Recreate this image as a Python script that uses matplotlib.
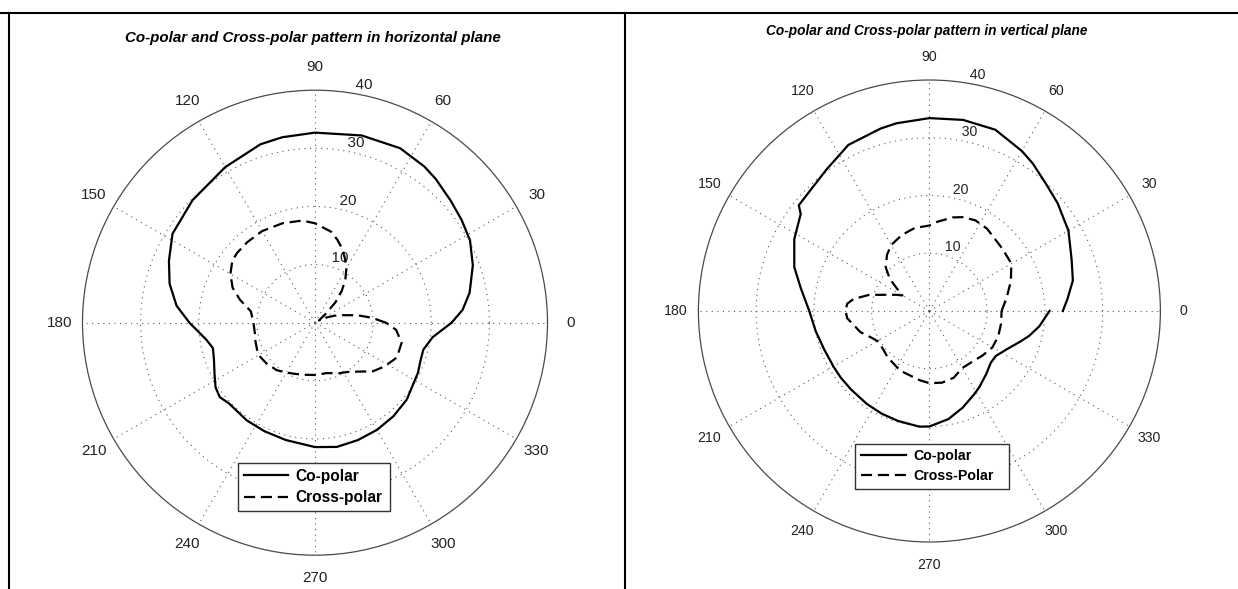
import numpy as np
import matplotlib
matplotlib.use("Agg")
import matplotlib.pyplot as plt
from matplotlib.lines import Line2D

# ====== Data (angle in degrees, level) ======
h_co_ang = [0, 5, 11, 20, 28, 35, 42, 50, 55, 64, 76, 90, 100, 107, 120, 135, 148, 157,
            165, 173, 180, 189, 194, 200, 207, 213, 218, 223, 235, 245, 256, 270, 280,
            290, 300, 310, 320, 334, 340, 346, 353, 360]
h_co_r = [23.5, 25.5, 27.1, 28.9, 30.2, 30.8, 31.4, 32.3, 32.8, 33.4, 33.2, 32.7, 32.4,
          32.1, 30.9, 29.8, 28.9, 27.3, 25.9, 24.0, 21.6, 18.9, 18.1, 18.5, 19.4, 20.4,
          20.8, 20.3, 20.5, 20.6, 20.8, 21.4, 21.7, 21.5, 21.3, 21.0, 20.6, 19.7, 19.3,
          19.2, 20.4, 23.5]

h_x_ang = [0, 5, 10, 15, 20, 25, 30, 35, 40, 45, 50, 55, 60, 65, 70, 75, 80, 90, 97, 108,
           120, 130, 138, 143, 150, 157, 163, 170, 180, 190, 196, 205, 212, 220, 231, 240,
           250, 260, 270, 283, 295, 305, 317, 320, 327, 332, 337, 347, 355, 360]
h_x_r = [12.2, 9.8, 7.4, 5.0, 3.5, 2.0, 0.8, 1.2, 2.5, 5.0, 7.2, 9.1, 10.8, 12.2, 13.6,
         14.8, 15.9, 17.1, 17.7, 18.0, 18.2, 18.1, 18.0, 17.8, 16.8, 15.4, 13.5, 11.2,
         10.6, 10.5, 10.7, 11.0, 11.1, 10.9, 10.5, 9.9, 9.4, 9.1, 9.0, 8.9, 9.6, 10.3,
         12.3, 13.0, 14.0, 14.6, 15.3, 15.3, 14.0, 12.2]

v_co_ang = [0, 5, 12, 20, 30, 40, 47, 55, 60, 70, 80, 90, 100, 105, 116, 126, 134, 141,
            143, 152, 162, 170, 180, 190, 200, 210, 217, 225, 236, 245, 254, 265, 270,
            280, 289, 298, 303, 312, 320, 326, 334, 341, 346, 352, 360]
v_co_r = [23.1, 24.0, 25.4, 26.2, 27.8, 29.0, 29.8, 31.2, 32.0, 33.4, 33.6, 33.4, 33.0,
          32.7, 32.0, 30.3, 29.4, 29.1, 27.9, 26.5, 24.6, 22.6, 20.8, 20.0, 19.4, 19.2,
          19.2, 19.2, 19.4, 19.6, 19.8, 20.1, 20.0, 19.0, 17.7, 16.4, 15.8, 14.7, 13.9,
          13.9, 15.0, 16.5, 17.8, 19.2, 20.8]

v_x_ang = [0, 10, 20, 30, 40, 50, 55, 63, 70, 76, 85, 90, 100, 110, 120, 127, 135, 141,
           146, 150, 154, 160, 165, 171, 175, 180, 185, 190, 197, 205, 211, 220, 228,
           244, 262, 270, 280, 290, 300, 310, 320, 330, 340, 350, 360]
v_x_r = [12.5, 13.6, 15.0, 16.4, 16.6, 17.0, 17.4, 17.6, 17.3, 16.7, 15.5, 14.8, 14.6,
         14.0, 13.2, 12.2, 10.7, 8.8, 6.6, 5.4, 6.4, 8.2, 10.8, 13.3, 14.3, 14.5, 14.3,
         13.4, 12.5, 11.0, 10.3, 10.4, 10.8, 11.5, 12.1, 12.5, 12.6, 12.3, 11.4, 11.5,
         12.0, 12.6, 12.7, 12.6, 12.5]

rings = [10, 20, 30]
rmax = 40
spokes = list(range(0, 360, 30))

W, H = 1238, 589
fig = plt.figure(figsize=(W / 100, H / 100), dpi=100)
fig.patch.set_facecolor("white")

SANS = ["Liberation Sans", "DejaVu Sans"]
GRID = "#5a5a5a"
DOT = (0, (1, 4))
DASH = (0, (5, 2.6))


def px(x, y):
    # pixel (from top-left) -> figure fraction
    return x / W, 1 - y / H


def panel(cx, cy, rad, co_a, co_r, x_a, x_r, title, title_pos, title_size,
          tick_size, leg_box, leg_size, hlen, cross_label):
    ax = fig.add_axes([(cx - rad) / W, (H - cy - rad) / H, 2 * rad / W, 2 * rad / H],
                      projection="polar")
    ax.set_ylim(0, rmax)
    ax.set_xticks([])
    ax.set_yticks([])
    ax.grid(False)
    ax.spines["polar"].set_color("#4a4a4a")
    ax.spines["polar"].set_linewidth(0.9)

    th = np.deg2rad(np.arange(0, 361, 1))
    for rr in rings:
        ax.plot(th, np.full(th.shape, rr), color=GRID, lw=0.8, ls=DOT, zorder=1)
    for a in spokes:
        ax.plot([np.deg2rad(a)] * 2, [0, rmax], color=GRID, lw=0.8, ls=DOT, zorder=1)

    for a in spokes:
        ax.text(np.deg2rad(a), rmax * 1.1, str(a), ha="center", va="center",
                fontsize=tick_size, family=SANS, color="#222222")
    for rr in rings + [rmax]:
        ax.text(np.deg2rad(82), rr, "  %d" % rr, ha="left", va="bottom",
                fontsize=tick_size, family=SANS, color="#222222", zorder=1.5)

    l1, = ax.plot(np.deg2rad(co_a), co_r, color="black", lw=1.6, zorder=3)
    l2, = ax.plot(np.deg2rad(x_a), x_r, color="black", lw=1.6, ls=DASH, zorder=3)

    # legend box given as (left, top, right, bottom) in pixels
    x0, y1 = px(leg_box[0], leg_box[3])
    x1, y0 = px(leg_box[2], leg_box[1])
    leg = ax.legend([l1, l2], ["Co-polar", cross_label], loc="center", mode="expand",
                    bbox_to_anchor=(x0, y1, x1 - x0, y0 - y1),
                    bbox_transform=fig.transFigure,
                    fancybox=False, framealpha=1, edgecolor="#333333",
                    borderpad=0.4, labelspacing=0.4, handlelength=hlen,
                    handletextpad=0.5, borderaxespad=0,
                    prop={"family": SANS, "weight": "bold", "size": leg_size})
    leg.get_frame().set_linewidth(1.0)

    tx, ty = px(*title_pos)
    fig.text(tx, ty, title, ha="center", va="center", fontsize=title_size,
             fontweight="bold", fontstyle="italic", family=SANS)
    return ax


panel(315, 322.7, 232.5, h_co_ang, h_co_r, h_x_ang, h_x_r,
      "Co-polar and Cross-polar pattern in horizontal plane", (313, 38), 10.9,
      11, (238, 462, 390, 512), 11.2, 2.8, "Cross-polar")
panel(929.4, 311, 231, v_co_ang, v_co_r, v_x_ang, v_x_r,
      "Co-polar and Cross-polar pattern in vertical plane", (927, 31), 9.8,
      10.2, (855, 444, 1009, 488), 10.2, 3.2, "Cross-Polar")

# table-cell borders around the two pictures
for xs, ys in [((0, W), (13, 13)), ((8.5, 8.5), (13, H)), ((625, 625), (13, H))]:
    fig.add_artist(Line2D([x / W for x in xs], [1 - y / H for y in ys],
                          color="black", lw=1.5, transform=fig.transFigure))

fig.savefig("out.png", dpi=100)
